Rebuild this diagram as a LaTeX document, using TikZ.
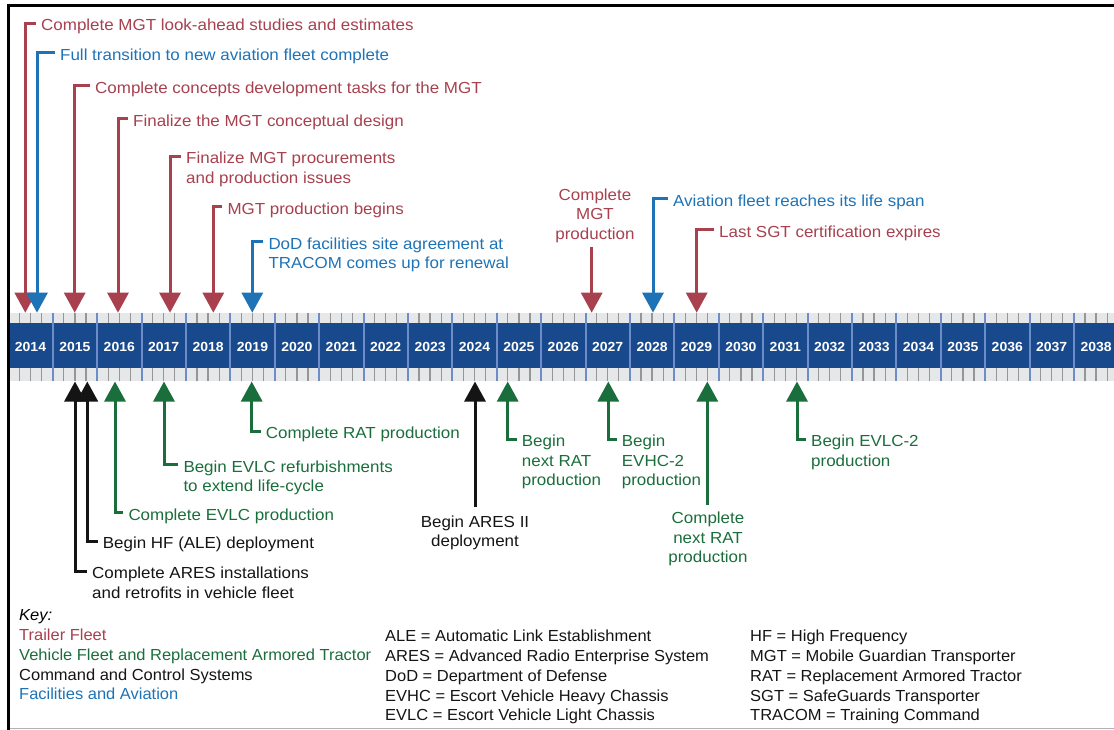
\documentclass[tikz,border=0pt]{standalone}
\usepackage{fontspec}
\setmainfont{Liberation Sans}[FakeStretch=1.06]
\newfontfamily\keyfont{Liberation Sans}[FakeStretch=1.03]
\usetikzlibrary{arrows.meta,calc}
\definecolor{cRed}{RGB}{168,64,78}
\definecolor{cGreen}{RGB}{26,110,60}
\definecolor{cBlue}{RGB}{30,115,183}
\definecolor{cBlack}{RGB}{20,20,20}
\definecolor{barBlue}{RGB}{23,73,140}
\definecolor{divBlue}{RGB}{110,140,200}
\definecolor{stripGray}{RGB}{230,231,232}
\definecolor{tickGray}{RGB}{150,150,150}
\tikzset{
  lbl/.style={inner sep=0pt, anchor=north west, align=left, font=\fontsize{16}{19.5}\selectfont},
  clbl/.style={inner sep=0pt, anchor=north, align=center, font=\fontsize{16}{19.5}\selectfont},
  keytxt/.style={inner sep=0pt, anchor=north west, align=left, font=\keyfont\fontsize{16}{19.8}\selectfont},
  arr/.style={line width=3pt, -{Triangle[width=21pt,length=20pt]}},
  yearlbl/.style={text=white, font=\bfseries\fontsize{13.2}{14}\selectfont, inner sep=0pt},
  brk/.style={xshift=-5pt,yshift=-4.3pt},
}
\begin{document}
\begin{tikzpicture}[x=1pt,y=-1pt]
\useasboundingbox (0,0) rectangle (1114,730);
% frame
\draw[gray!60, line width=1.2pt] (8,728.6) -- (1114,728.6);
\draw[black, line width=3pt] (8.3,730) -- (8.3,5.3) -- (1114,5.3);
% timeline bar
\fill[stripGray] (9.8,312.7) rectangle (1114,323);
\fill[stripGray] (9.8,368) rectangle (1114,381);
\fill[barBlue] (9.8,323) rectangle (1114,368);
\foreach \i [evaluate=\i as \yr using int(2014+\i)] in {0,...,24}{
  \pgfmathsetmacro{\xo}{8.3+44.4*\i}
  \foreach \q in {11.1,22.2,33.3}{
    \draw[tickGray, line width=1.3pt] (\xo+\q,312.7) -- (\xo+\q,323);
    \draw[tickGray, line width=1.3pt] (\xo+\q,368) -- (\xo+\q,381);
  }
  \ifnum\i>0
    \draw[divBlue, line width=2pt] (\xo,312.7) -- (\xo,381);
  \fi
  \node[yearlbl] (y\yr) at (\xo+22.2,346.7) {\yr};
}
% arrow tip coordinates
\coordinate (tA1) at (25.3,312.7);
\coordinate (tA2) at (37,312.7);
\coordinate (tA3) at (74.7,312.7);
\coordinate (tA4) at (118,312.7);
\coordinate (tA5) at (170,312.7);
\coordinate (tA6) at (213.3,312.7);
\coordinate (tA7) at (252.3,312.7);
\coordinate (tA8) at (591.7,312.7);
\coordinate (tA9) at (653,312.7);
\coordinate (tA10) at (696.7,312.7);
\coordinate (tB1) at (75,381.5);
\coordinate (tB2) at (87.3,381.5);
\coordinate (tB3) at (115,381.5);
\coordinate (tB4) at (164,381.5);
\coordinate (tB5) at (251.7,381.5);
\coordinate (tB6) at (475,381.5);
\coordinate (tB7) at (507.7,381.5);
\coordinate (tB8) at (608.3,381.5);
\coordinate (tB9) at (707.3,381.5);
\coordinate (tB10) at (797,381.5);
% top labels
\node[lbl, text=cRed] (l1) at (41,19) {Complete MGT look-ahead studies and estimates};
\node[lbl, text=cBlue] (l2) at (60,48.3) {Full transition to new aviation fleet complete};
\node[lbl, text=cRed] (l3) at (95,81.7) {Complete concepts development tasks for the MGT};
\node[lbl, text=cRed] (l4) at (133,114.5) {Finalize the MGT conceptual design};
\node[lbl, text=cRed] (l5) at (186,152) {Finalize MGT procurements\\and production issues};
\node[lbl, text=cRed] (l6) at (227.3,202.5) {MGT production begins};
\node[lbl, text=cBlue] (l7) at (268.3,237.3) {DoD facilities site agreement at\\TRACOM comes up for renewal};
\node[clbl, text=cRed] (l8) at (595,188.3) {Complete\\MGT\\production};
\node[lbl, text=cBlue] (l9) at (673,194.3) {Aviation fleet reaches its life span};
\node[lbl, text=cRed] (l10) at (719,225.3) {Last SGT certification expires};
% top connectors
\draw[arr, cRed] ([brk]l1.north west) -| (tA1);
\draw[arr, cBlue] ([brk]l2.north west) -| (tA2);
\draw[arr, cRed] ([brk]l3.north west) -| (tA3);
\draw[arr, cRed] ([brk]l4.north west) -| (tA4);
\draw[arr, cRed] ([brk]l5.north west) -| (tA5);
\draw[arr, cRed] ([brk]l6.north west) -| (tA6);
\draw[arr, cBlue] ([brk]l7.north west) -| (tA7);
\draw[arr, cRed] ($(l8.south -| tA8)+(0,4)$) -- (tA8);
\draw[arr, cBlue] ([brk]l9.north west) -| (tA9);
\draw[arr, cRed] ([brk]l10.north west) -| (tA10);
% bottom labels
\node[lbl, text=cBlack] (b1) at (92,566.8) {Complete ARES installations\\and retrofits in vehicle fleet};
\node[lbl, text=cBlack] (b2) at (102.7,536.8) {Begin HF (ALE) deployment};
\node[lbl, text=cGreen] (b3) at (128.3,508.3) {Complete EVLC production};
\node[lbl, text=cGreen] (b4) at (183.3,460.3) {Begin EVLC refurbishments\\to extend life-cycle};
\node[lbl, text=cGreen] (b5) at (265.7,426.8) {Complete RAT production};
\node[clbl, text=cBlack] (b6) at (475,515.3) {Begin ARES II\\deployment};
\node[lbl, text=cGreen] (b7) at (521.7,434.8) {Begin\\next RAT\\production};
\node[lbl, text=cGreen] (b8) at (621.7,434.8) {Begin\\EVHC-2\\production};
\node[clbl, text=cGreen] (b9) at (708,511.8) {Complete\\next RAT\\production};
\node[lbl, text=cGreen] (b10) at (811,434.8) {Begin EVLC-2\\production};
% bottom connectors
\draw[arr, cBlack] ([brk]b1.north west) -| (tB1);
\draw[arr, cBlack] ([brk]b2.north west) -| (tB2);
\draw[arr, cGreen] ([brk]b3.north west) -| (tB3);
\draw[arr, cGreen] ([brk]b4.north west) -| (tB4);
\draw[arr, cGreen] ([brk]b5.north west) -| (tB5);
\draw[arr, cBlack] ($(b6.north -| tB6)+(0,-8)$) -- (tB6);
\draw[arr, cGreen] ([brk]b7.north west) -| (tB7);
\draw[arr, cGreen] ([brk]b8.north west) -| (tB8);
\draw[arr, cGreen] ($(b9.north -| tB9)+(0,-7)$) -- (tB9);
\draw[arr, cGreen] ([brk]b10.north west) -| (tB10);
% key
\node[keytxt] (key1) at (19,609.5) {{\itshape Key:}\\{\color{cRed}Trailer Fleet}\\{\color{cGreen}Vehicle Fleet and Replacement Armored Tractor}\\{\color{cBlack}Command and Control Systems}\\{\color{cBlue}Facilities and Aviation}};
\node[keytxt, text=cBlack] (key2) at (385,630) {ALE = Automatic Link Establishment\\ARES = Advanced Radio Enterprise System\\DoD = Department of Defense\\EVHC = Escort Vehicle Heavy Chassis\\EVLC = Escort Vehicle Light Chassis};
\node[keytxt, text=cBlack] (key3) at (750,630) {HF = High Frequency\\MGT = Mobile Guardian Transporter\\RAT = Replacement Armored Tractor\\SGT = SafeGuards Transporter\\TRACOM = Training Command};
\end{tikzpicture}
\end{document}
